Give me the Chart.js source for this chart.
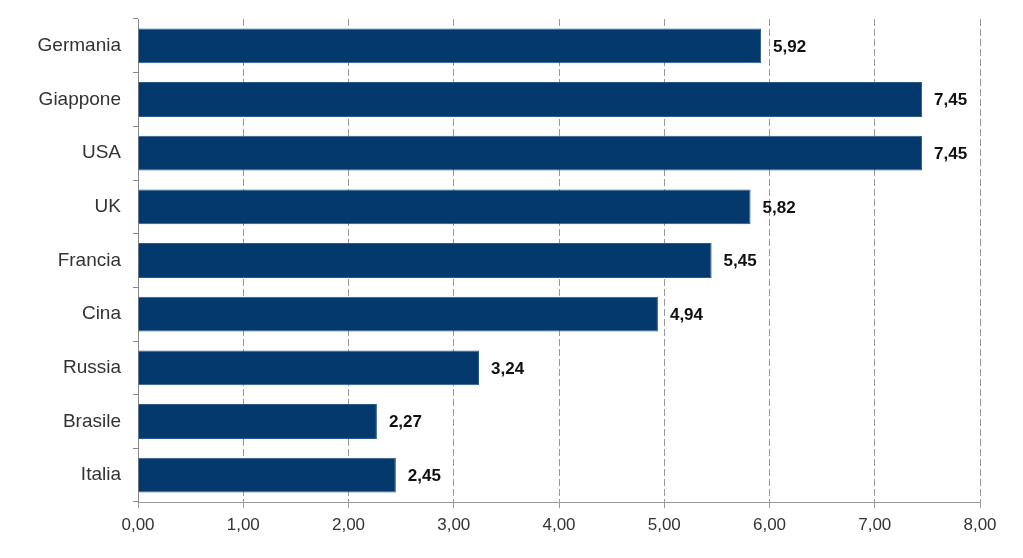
<!DOCTYPE html>
<html>
<head>
<meta charset="utf-8">
<script src="https://cdn.jsdelivr.net/npm/chart.js@4"></script>
<style>
  html, body { margin: 0; padding: 0; background: #fff; }
  #wrap { width: 1023px; height: 558px; }
</style>
</head>
<body>
<div id="wrap"><canvas id="myChart" width="1023" height="558"></canvas></div>
<script>
const countries = ['Germania', 'Giappone', 'USA', 'UK', 'Francia', 'Cina', 'Russia', 'Brasile', 'Italia'];
const values = [5.92, 7.45, 7.45, 5.82, 5.45, 4.94, 3.24, 2.27, 2.45];
const xTicks = [0, 1, 2, 3, 4, 5, 6, 7, 8];

const fmt = (v) => v.toFixed(2).replace('.', ',');

// draws the value next to each bar
const valueLabels = {
    id: 'valueLabels',
    afterDatasetsDraw(chart) {
        const ctx = chart.ctx;
        const meta = chart.getDatasetMeta(0);
        ctx.save();
        ctx.font = 'bold 17px "Liberation Sans", Arial, sans-serif';
        ctx.fillStyle = '#111';
        ctx.textBaseline = 'middle';
        ctx.textAlign = 'left';
        meta.data.forEach((bar, i) => {
            ctx.fillText(fmt(values[i]), bar.x + 12, bar.y + 1);
        });
        ctx.restore();
    },
};

let ctx = document.getElementById('myChart').getContext('2d');

new Chart(ctx, {
    type: 'bar',
    data: {
        labels: countries,
        datasets: [
            {
                data: values,
                backgroundColor: '#03396c',
                borderColor: '#2a5a8a',
                borderWidth: 1,
                categoryPercentage: 0.65,
                barPercentage: 1,
            },
        ],
    },
    options: {
        indexAxis: 'y',
        responsive: false,
        animation: false,
        layout: { padding: { top: 19, right: 43, left: 0, bottom: 0 } },
        plugins: {
            legend: { display: false },
            tooltip: { enabled: false },
        },
        scales: {
            x: {
                min: 0,
                max: 8,
                afterBuildTicks: (scale) => {
                    scale.ticks = xTicks.map((v) => ({ value: v }));
                },
                afterFit: (scale) => {
                    scale.height = 56;
                },
                ticks: {
                    callback: (v) => fmt(v),
                    color: '#333',
                    font: { family: '"Liberation Sans", Arial, sans-serif', size: 17 },
                    padding: 7,
                    maxRotation: 0,
                },
                grid: {
                    color: '#999',
                    tickLength: 6,
                    tickColor: '#999',
                    lineWidth: 1,
                },
                border: { color: '#999', dash: [7, 3] },
            },
            y: {
                afterFit: (scale) => {
                    scale.width = 138;
                    scale.paddingTop = 0;
                    scale.paddingBottom = 0;
                },
                ticks: {
                    color: '#333',
                    font: { family: '"Liberation Sans", Arial, sans-serif', size: 19 },
                    padding: 12,
                },
                grid: {
                    offset: true,
                    drawOnChartArea: false,
                    tickLength: 5,
                    color: '#888',
                },
                border: { color: '#888' },
            },
        },
    },
    plugins: [valueLabels],
});
</script>
</body>
</html>
